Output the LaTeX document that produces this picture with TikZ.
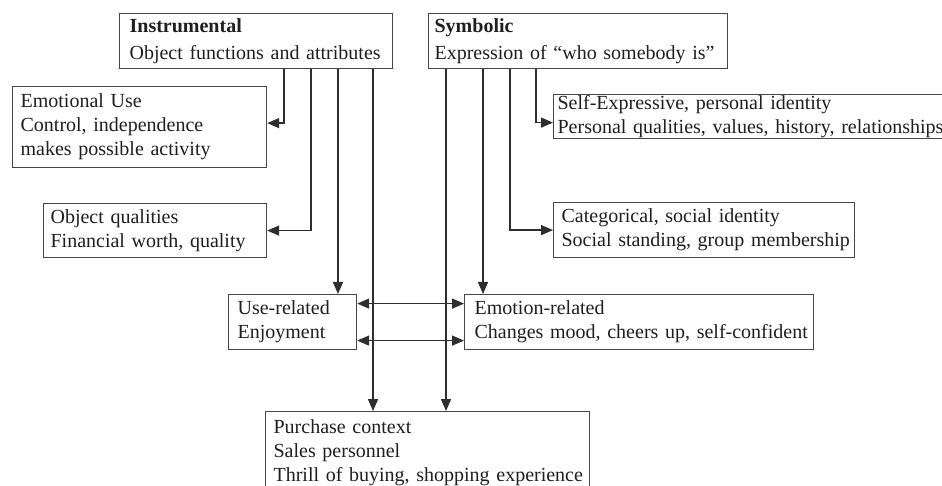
\documentclass[tikz,border=0pt]{standalone}
\usepackage{fontspec}
\setmainfont{Liberation Serif}
\usetikzlibrary{arrows.meta,calc}
\begin{document}
\begin{tikzpicture}[x=1pt,y=-1pt,
  box/.style={draw=black!72, line width=1.2pt, anchor=north west, align=left,
    inner ysep=0pt, text=black!88, font=\fontsize{20}{24}\selectfont},
  headbox/.style={box, font=\fontsize{20}{27}\selectfont},
  arr/.style={draw=black!82, line width=1.4pt, -{Triangle[length=12pt,width=10pt]}},
  darr/.style={draw=black!82, line width=1.4pt, {Triangle[length=12pt,width=10pt]}-{Triangle[length=12pt,width=10pt]}}]
\useasboundingbox (0,0) rectangle (942,486);
\clip (0,0) rectangle (942,486);
\fill[white] (0,0) rectangle (942,486);
% boxes
\node[headbox, inner xsep=10pt, text width=253pt, minimum height=55pt] (ins) at (119,13)
  {\mbox{\textbf{Instrumental}}\\\mbox{Object functions and attributes}};
\node[headbox, inner xsep=6pt, text width=287pt, minimum height=55pt] (sym) at (428,13)
  {\mbox{\textbf{Symbolic}}\\\mbox{Expression of “who somebody is”}};
\node[box, inner xsep=8pt, text width=238pt, minimum height=81pt] (emo) at (12,86)
  {\mbox{Emotional Use}\\\mbox{Control, independence}\\\mbox{makes possible activity}};
\node[box, inner xsep=7pt, text width=209pt, minimum height=54pt] (obj) at (43,203)
  {\mbox{Object qualities}\\\mbox{Financial worth, quality}};
\node[box, inner xsep=4pt, text width=412pt, minimum height=44pt] (self) at (553,94)
  {\mbox{Self-Expressive, personal identity}\\\mbox{Personal qualities, values, history, relationships}};
\node[box, inner xsep=8pt, text width=285pt, minimum height=55pt] (cat) at (553,202)
  {\mbox{Categorical, social identity}\\\mbox{Social standing, group membership}};
\node[box, inner xsep=9pt, text width=110pt, minimum height=55pt] (use) at (228,294)
  {\mbox{Use-related}\\\mbox{Enjoyment}};
\node[box, inner xsep=10pt, text width=329pt, minimum height=55pt] (emr) at (464,294)
  {\mbox{Emotion-related}\\\mbox{Changes mood, cheers up, self-confident}};
\node[box, inner xsep=8pt, text width=308pt, minimum height=83pt] (pur) at (265,411)
  {\mbox{Purchase context}\\\mbox{Sales personnel}\\\mbox{Thrill of buying, shopping experience}};
% connector start points
\coordinate (i1) at ($(ins.south west)+(165,0)$);
\coordinate (i2) at ($(ins.south west)+(192,0)$);
\coordinate (i3) at ($(ins.south west)+(219,0)$);
\coordinate (i4) at ($(ins.south west)+(254,0)$);
\coordinate (s1) at ($(sym.south west)+(18,0)$);
\coordinate (s2) at ($(sym.south west)+(55,0)$);
\coordinate (s3) at ($(sym.south west)+(82,0)$);
\coordinate (s4) at ($(sym.south west)+(108,0)$);
% connectors
\draw[arr] (i1) |- ([yshift=4pt]emo.east);
\draw[arr] (i2) |- (obj.east);
\draw[arr] (i3) -- (i3 |- use.north);
\draw[arr] (i4) -- (i4 |- pur.north);
\draw[arr] (s1) -- (s1 |- pur.north);
\draw[arr] (s2) -- (s2 |- emr.north);
\draw[arr] (s3) |- (cat.west);
\draw[arr] (s4) |- ([yshift=-6pt]self.west);
\draw[darr] ([yshift=18.5pt]use.east) -- ([yshift=18.5pt]emr.west);
\draw[darr] ([yshift=-18.5pt]use.east) -- ([yshift=-18.5pt]emr.west);
\end{tikzpicture}
\end{document}
